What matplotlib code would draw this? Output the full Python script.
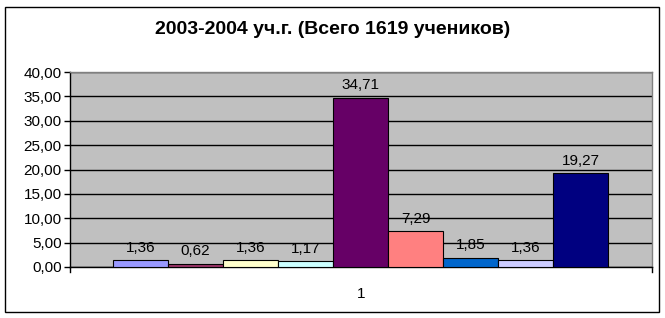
import matplotlib
matplotlib.use("Agg")
import matplotlib.pyplot as plt
from matplotlib.patches import Rectangle

plt.rcParams["font.family"] = ["Liberation Sans", "DejaVu Sans"]

title = "2003-2004 уч.г. (Всего 1619 учеников)"
category = "1"
values = [1.36, 0.62, 1.36, 1.17, 34.71, 7.29, 1.85, 1.36, 19.27]
colors = ["#9999FF", "#993366", "#FFFFCC", "#CCFFFF", "#660066",
          "#FF8080", "#0066CC", "#CCCCFF", "#000080"]
yticks = [0, 5, 10, 15, 20, 25, 30, 35, 40]


def comma(v, nd=2):
    return f"{v:.{nd}f}".replace(".", ",")


fig = plt.figure(figsize=(6.65, 3.18), dpi=100)
fig.patch.set_facecolor("white")
fig.patches.append(Rectangle((5 / 665, 6 / 318), 654 / 665, 305 / 318,
                             transform=fig.transFigure, fill=False,
                             edgecolor="black", linewidth=1.0))

ax = fig.add_axes([70 / 665, 51 / 318, 582 / 665, 195 / 318])
ax.set_facecolor("#C0C0C0")

xs = list(range(len(values)))
ax.bar(xs, values, width=1.0, color=colors, edgecolor="black",
       linewidth=0.8, zorder=3)

for x, v in zip(xs, values):
    ax.annotate(comma(v), (x, v), xytext=(0, 4), textcoords="offset points",
                ha="center", va="bottom", fontsize=11, zorder=4)

ax.set_xlim(-0.5 - 43 / 55, len(values) - 0.5 + 44 / 55)
ax.set_ylim(0, 40)
ax.set_yticks(yticks)
ax.set_yticklabels([comma(t) for t in yticks], fontsize=11)
ax.yaxis.grid(True, color="black", linewidth=1.0, zorder=1)
ax.set_axisbelow(True)

ax.set_xticks([])
ax.text(0.5, -0.1, category, transform=ax.transAxes, ha="center",
        va="top", fontsize=11)
# small tick marks at both ends of the category axis
for xe in (0, 1):
    ax.plot([xe, xe], [0, -0.025], transform=ax.transAxes, color="black",
            linewidth=1.0, clip_on=False)

ax.tick_params(axis="y", length=4, width=1.0, pad=2)
for side in ("left", "bottom"):
    ax.spines[side].set_color("black")
    ax.spines[side].set_linewidth(1.0)
for side in ("top", "right"):
    ax.spines[side].set_color("#808080")
    ax.spines[side].set_linewidth(1.0)

fig.text(0.5, 1 - 30 / 318, title, ha="center", va="center",
         fontsize=14, fontweight="bold")

fig.savefig("out.png", dpi=100)
